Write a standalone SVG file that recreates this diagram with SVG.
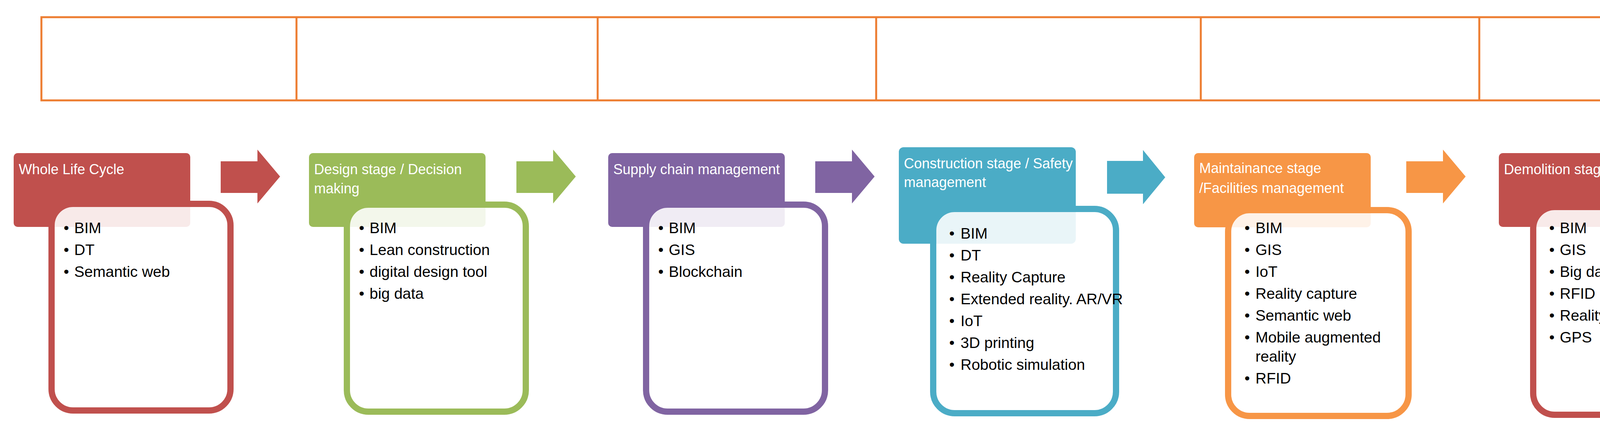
<svg xmlns="http://www.w3.org/2000/svg" width="4520" height="1101" viewBox="0 0 4520 1101">
<style>
text{font-family:"Liberation Sans Narrow","Liberation Sans",sans-serif}
.h{fill:#fff;font-size:36px}
.b{fill:#000;font-size:39px}
.box{fill:#fff;fill-opacity:0.88;stroke-width:16}
</style>
<rect width="4520" height="1101" fill="#fff"/>
<g id="timeline" fill="none" stroke="#ED7D31" stroke-width="5">
<rect x="106" y="44" width="4372" height="213"/>
<path d="M759 44V257M1530 44V257M2243 44V257M3074 44V257M3787 44V257"/>
</g>
<g id="connectors">
<path d="M565 413H659V383L717 452L659 521V494H565Z" fill="#C0504D"/>
<path d="M1322 413H1416V383L1474 452L1416 521V494H1322Z" fill="#9BBB59"/>
<path d="M2087 413H2181V383L2239 452L2181 521V494H2087Z" fill="#8064A2"/>
<path d="M2834 412H2926V384L2983 454L2926 523V496H2834Z" fill="#4BACC6"/>
<path d="M3600 413H3694V383L3752 452L3694 521V494H3600Z" fill="#F79646"/>
</g>
<g id="stage1">
<rect x="35" y="392" width="452" height="189" rx="10" fill="#C0504D"/>
<rect class="box" x="132" y="522" width="458" height="529" rx="55" stroke="#C0504D"/>
<text class="h" x="48" y="446">Whole Life Cycle</text>
<g class="b"><text x="163" y="597">• <tspan x="190">BIM</tspan></text><text x="163" y="653">• <tspan x="190">DT</tspan></text><text x="163" y="709">• <tspan x="190">Semantic web</tspan></text></g>
</g>
<g id="stage2">
<rect x="791" y="392" width="452" height="189" rx="10" fill="#9BBB59"/>
<rect class="box" x="888" y="524" width="458" height="530" rx="55" stroke="#9BBB59"/>
<text class="h" x="804" y="446">Design stage / Decision</text><text class="h" x="804" y="495">making</text>
<g class="b"><text x="919" y="597">• <tspan x="946">BIM</tspan></text><text x="919" y="653">• <tspan x="946">Lean construction</tspan></text><text x="919" y="709">• <tspan x="946">digital design tool</tspan></text><text x="919" y="765">• <tspan x="946">big data</tspan></text></g>
</g>
<g id="stage3">
<rect x="1557" y="392" width="452" height="189" rx="10" fill="#8064A2"/>
<rect class="box" x="1654" y="524" width="458" height="530" rx="55" stroke="#8064A2"/>
<text class="h" x="1570" y="446">Supply chain management</text>
<g class="b"><text x="1685" y="597">• <tspan x="1712">BIM</tspan></text><text x="1685" y="653">• <tspan x="1712">GIS</tspan></text><text x="1685" y="709">• <tspan x="1712">Blockchain</tspan></text></g>
</g>
<g id="stage4">
<rect x="2301" y="377" width="453" height="247" rx="12" fill="#4BACC6"/>
<rect class="box" x="2389" y="535" width="468" height="523" rx="55" stroke="#4BACC6"/>
<text class="h" x="2314" y="431">Construction stage / Safety</text><text class="h" x="2314" y="479">management</text>
<g class="b"><text x="2430" y="611">• <tspan x="2459">BIM</tspan></text><text x="2430" y="667">• <tspan x="2459">DT</tspan></text><text x="2430" y="723">• <tspan x="2459">Reality Capture</tspan></text><text x="2430" y="779">• <tspan x="2459">Extended reality. AR/VR</tspan></text><text x="2430" y="835">• <tspan x="2459">IoT</tspan></text><text x="2430" y="891">• <tspan x="2459">3D printing</tspan></text><text x="2430" y="947">• <tspan x="2459">Robotic simulation</tspan></text></g>
</g>
<g id="stage5">
<rect x="3057" y="392" width="452" height="190" rx="10" fill="#F79646"/>
<rect class="box" x="3144" y="538" width="462" height="527" rx="55" stroke="#F79646"/>
<text class="h" x="3070" y="443">Maintainance stage</text><text class="h" x="3070" y="494">/Facilities management</text>
<g class="b"><text x="3186" y="597">• <tspan x="3214">BIM</tspan></text><text x="3186" y="653">• <tspan x="3214">GIS</tspan></text><text x="3186" y="709">• <tspan x="3214">IoT</tspan></text><text x="3186" y="765">• <tspan x="3214">Reality  capture</tspan></text><text x="3186" y="821">• <tspan x="3214">Semantic web</tspan></text><text x="3186" y="877">• <tspan x="3214">Mobile augmented</tspan></text><text x="3214" y="926">reality</text><text x="3186" y="982">• <tspan x="3214">RFID</tspan></text></g>
</g>
<g id="stage6">
<rect x="3837" y="392" width="452" height="189" rx="10" fill="#C0504D"/>
<rect class="box" x="3925" y="530" width="462" height="532" rx="55" stroke="#C0504D"/>
<text class="h" x="3850" y="446">Demolition stage</text>
<g class="b"><text x="3966" y="597">• <tspan x="3993">BIM</tspan></text><text x="3966" y="653">• <tspan x="3993">GIS</tspan></text><text x="3966" y="709">• <tspan x="3993">Big data</tspan></text><text x="3966" y="765">• <tspan x="3993">RFID</tspan></text><text x="3966" y="821">• <tspan x="3993">Reality capture</tspan></text><text x="3966" y="877">• <tspan x="3993">GPS</tspan></text></g>
</g>
</svg>
